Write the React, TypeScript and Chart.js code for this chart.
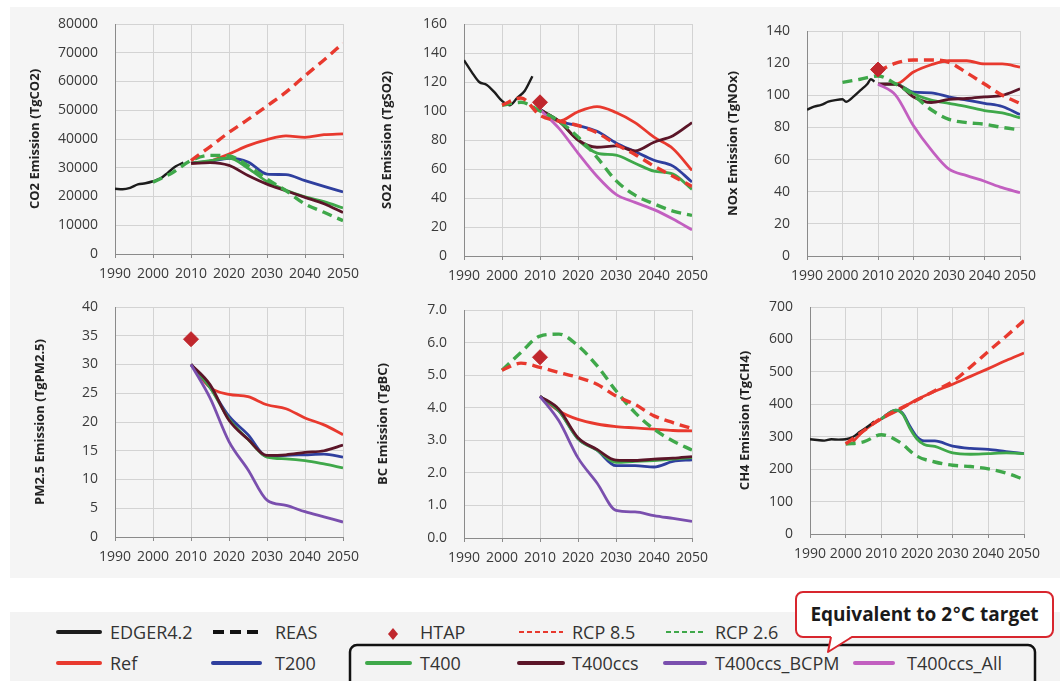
import React, { useEffect, useRef } from "react";
import { Chart, registerables } from "chart.js";

Chart.register(...registerables);
Chart.defaults.font.family = "'Open Sans', 'DejaVu Sans', sans-serif";

// ---- x positions (years) ----
const YEARS_HIST = [1990, 1992, 1994, 1996, 1998, 2000, 2002, 2004, 2006, 2008];
const YEARS_NOX_HIST = [1990, 1992, 1994, 1996, 1998, 2000, 2001, 2003, 2005, 2007, 2008, 2009];
const YEARS_RCP = [2000, 2005, 2010, 2015, 2020, 2025, 2030, 2035, 2040, 2045, 2050];
const YEARS_PROJ = [2010, 2015, 2020, 2025, 2030, 2035, 2040, 2045, 2050];
const YEARS_CH4_REF = [2002, 2005, 2010, 2015, 2020, 2025, 2030, 2035, 2040, 2045, 2050];
const YEARS_CH4_PEAK = [2010, 2012, 2014, 2016, 2018, 2020, 2022, 2025, 2030, 2035, 2040, 2045, 2050];
const YEAR_HTAP = [2010];

// ---- CO2 (TgCO2) ----
const co2Edgar = [22700, 22500, 23000, 24200, 24600, 25300, 26300, 28400, 30500, 31800];
const co2Rcp85 = [32500, 37300, 42300, 46800, 51500, 56300, 62000, 67500, 73300];
const co2Rcp26 = [25000, 28200, 32500, 34300, 34100, 30700, 26100, 22000, 17400, 14500, 11600];
const co2Ref = [31500, 32300, 34800, 37700, 39800, 41100, 40600, 41500, 41800];
const co2T200 = [31700, 32200, 33300, 32000, 27800, 27600, 25500, 23500, 21600];
const co2T400 = [31600, 32500, 33400, 29800, 25200, 22200, 19900, 18200, 16000];
const co2T400ccs = [31500, 31800, 30800, 27300, 24300, 22000, 19700, 17500, 14400];

// ---- SO2 (TgSO2) ----
const so2Edgar = [135, 127, 120, 118, 113, 107, 104, 109, 114, 124];
const so2Htap = [106];
const so2Rcp85 = [104, 109, 97, 93, 90, 85, 77, 70, 62, 55, 48];
const so2Rcp26 = [104, 106, 100, 93, 82, 68, 52, 42, 36, 31, 28];
const so2Ref = [101, 93, 99.5, 103, 99, 92, 82, 74, 59];
const so2T200 = [101, 93, 90, 86, 78, 72, 66, 62, 51];
const so2T400 = [101, 93, 80, 71, 69.5, 64, 58.5, 56.5, 46];
const so2T400ccs = [101, 93, 80, 75, 76, 72.5, 78.5, 83, 92];
const so2T400ccsAll = [101, 88, 71, 55, 42.5, 37, 32, 25.5, 18];

// ---- NOx (TgNOx) ----
const noxEdgar = [91, 93, 94, 96, 97, 97.5, 96, 99, 103, 107, 110, 108.5];
const noxHtap = [116];
const noxRcp85 = [115, 120, 122, 122, 120.5, 114, 107, 100, 95];
const noxRcp26 = [108, 110, 112, 107, 100, 91, 85, 83, 82, 80, 78.5];
const noxRef = [107, 107, 114.5, 119, 121.5, 121.5, 119.5, 119.5, 117.5];
const noxT200 = [107, 107, 102, 101.5, 99, 97, 95, 93, 88];
const noxT400 = [107, 107, 101, 97, 95, 93, 90.5, 89, 86];
const noxT400ccs = [107, 107, 99, 95.5, 97.5, 98, 99, 100, 104];
const noxT400ccsAll = [107, 100, 81, 66, 54, 50, 46.5, 42.5, 39.4];

// ---- PM2.5 (TgPM2.5) ----
const pm25Htap = [34.4];
const pm25Ref = [30, 26, 24.8, 24.4, 23, 22.3, 20.7, 19.5, 17.8];
const pm25T200 = [30, 26, 21, 17.8, 14, 14.2, 14.3, 14.4, 13.9];
const pm25T400 = [30, 26, 20.5, 17, 13.9, 13.6, 13.3, 12.7, 12];
const pm25T400ccs = [30, 26.5, 20.3, 17, 14.2, 14.3, 14.7, 15, 16];
const pm25T400ccsBcpm = [30, 24.2, 16.6, 11.7, 6.4, 5.5, 4.4, 3.5, 2.6];

// ---- BC (TgBC) ----
const bcHtap = [5.55];
const bcRcp85 = [5.15, 5.37, 5.24, 5.08, 4.93, 4.72, 4.36, 4.1, 3.75, 3.54, 3.36];
const bcRcp26 = [5.15, 5.7, 6.2, 6.26, 5.9, 5.29, 4.52, 3.85, 3.34, 2.98, 2.7];
const bcRef = [4.35, 3.9, 3.64, 3.5, 3.42, 3.38, 3.34, 3.3, 3.29];
const bcT200 = [4.35, 3.9, 3.05, 2.7, 2.22, 2.22, 2.18, 2.35, 2.4];
const bcT400 = [4.35, 3.9, 3.05, 2.7, 2.32, 2.35, 2.38, 2.42, 2.47];
const bcT400ccs = [4.35, 3.95, 3.08, 2.72, 2.39, 2.38, 2.42, 2.45, 2.5];
const bcT400ccsBcpm = [4.35, 3.59, 2.46, 1.69, 0.85, 0.8, 0.69, 0.6, 0.51];

// ---- CH4 (TgCH4) ----
const ch4Edgar = [292, 290, 288, 292, 291, 292, 299, 315, 330, 347];
const ch4Rcp85 = [278, 318, 357, 385, 413, 442, 470, 515, 563, 610, 658];
const ch4Rcp26 = [277, 284, 306, 284, 240, 222, 212, 208, 201, 188, 168];
const ch4Ref = [284, 318, 355, 383, 415, 440, 462, 486, 510, 535, 558];
const ch4T200 = [355, 372, 382, 372, 332, 299, 287, 287, 271, 264, 261, 254, 248];
const ch4T400 = [355, 372, 382, 370, 326, 293, 276, 270, 250, 246, 248, 250, 248];

// ---- series styling ----
const COLORS: Record<string, string> = {
  "EDGER4.2": "#1c1c1c",
  HTAP: "#c0272d",
  "RCP 8.5": "#e8392e",
  "RCP 2.6": "#3fa84a",
  Ref: "#e8392e",
  T200: "#2f3f9e",
  T400: "#3fa84a",
  T400ccs: "#5b1528",
  T400ccs_BCPM: "#7a4fae",
  T400ccs_All: "#c25fc0",
};
const DASHED = ["RCP 8.5", "RCP 2.6"];
// first entries are painted on top
const DRAW_ORDER = ["HTAP", "RCP 8.5", "RCP 2.6", "EDGER4.2", "T400ccs_All", "T400ccs_BCPM", "T400ccs", "T400", "T200", "Ref"];

type SeriesDef = [string, number[], number[]];

interface PanelDef {
  title: string;
  yMax: number;
  yStep: number;
  decimals: number;
  series: SeriesDef[];
}

const PANELS: PanelDef[] = [
  {
    title: "CO2 Emission (TgCO2)", yMax: 80000, yStep: 10000, decimals: 0,
    series: [
      ["EDGER4.2", YEARS_HIST, co2Edgar], ["RCP 8.5", YEARS_PROJ, co2Rcp85], ["RCP 2.6", YEARS_RCP, co2Rcp26],
      ["Ref", YEARS_PROJ, co2Ref], ["T200", YEARS_PROJ, co2T200], ["T400", YEARS_PROJ, co2T400],
      ["T400ccs", YEARS_PROJ, co2T400ccs],
    ],
  },
  {
    title: "SO2 Emission (TgSO2)", yMax: 160, yStep: 20, decimals: 0,
    series: [
      ["EDGER4.2", YEARS_HIST, so2Edgar], ["HTAP", YEAR_HTAP, so2Htap], ["RCP 8.5", YEARS_RCP, so2Rcp85],
      ["RCP 2.6", YEARS_RCP, so2Rcp26], ["Ref", YEARS_PROJ, so2Ref], ["T200", YEARS_PROJ, so2T200],
      ["T400", YEARS_PROJ, so2T400], ["T400ccs", YEARS_PROJ, so2T400ccs], ["T400ccs_All", YEARS_PROJ, so2T400ccsAll],
    ],
  },
  {
    title: "NOx Emission (TgNOx)", yMax: 140, yStep: 20, decimals: 0,
    series: [
      ["EDGER4.2", YEARS_NOX_HIST, noxEdgar], ["HTAP", YEAR_HTAP, noxHtap], ["RCP 8.5", YEARS_PROJ, noxRcp85],
      ["RCP 2.6", YEARS_RCP, noxRcp26], ["Ref", YEARS_PROJ, noxRef], ["T200", YEARS_PROJ, noxT200],
      ["T400", YEARS_PROJ, noxT400], ["T400ccs", YEARS_PROJ, noxT400ccs], ["T400ccs_All", YEARS_PROJ, noxT400ccsAll],
    ],
  },
  {
    title: "PM2.5 Emission (TgPM2.5)", yMax: 40, yStep: 5, decimals: 0,
    series: [
      ["HTAP", YEAR_HTAP, pm25Htap], ["Ref", YEARS_PROJ, pm25Ref], ["T200", YEARS_PROJ, pm25T200],
      ["T400", YEARS_PROJ, pm25T400], ["T400ccs", YEARS_PROJ, pm25T400ccs], ["T400ccs_BCPM", YEARS_PROJ, pm25T400ccsBcpm],
    ],
  },
  {
    title: "BC Emission (TgBC)", yMax: 7, yStep: 1, decimals: 1,
    series: [
      ["HTAP", YEAR_HTAP, bcHtap], ["RCP 8.5", YEARS_RCP, bcRcp85], ["RCP 2.6", YEARS_RCP, bcRcp26],
      ["Ref", YEARS_PROJ, bcRef], ["T200", YEARS_PROJ, bcT200], ["T400", YEARS_PROJ, bcT400],
      ["T400ccs", YEARS_PROJ, bcT400ccs], ["T400ccs_BCPM", YEARS_PROJ, bcT400ccsBcpm],
    ],
  },
  {
    title: "CH4 Emission (TgCH4)", yMax: 700, yStep: 100, decimals: 0,
    series: [
      ["EDGER4.2", YEARS_HIST, ch4Edgar], ["RCP 8.5", YEARS_RCP, ch4Rcp85], ["RCP 2.6", YEARS_RCP, ch4Rcp26],
      ["Ref", YEARS_CH4_REF, ch4Ref], ["T200", YEARS_CH4_PEAK, ch4T200], ["T400", YEARS_CH4_PEAK, ch4T400],
    ],
  },
];

// plot-area boxes on the page: left, right, top, bottom, and y-title centre x
const FRAMES = [
  { l: 115, r: 343, t: 24, b: 254, tx: 35 },
  { l: 464, r: 692, t: 24, b: 256, tx: 387 },
  { l: 807, r: 1020, t: 31, b: 256, tx: 733 },
  { l: 115, r: 343, t: 307, b: 537, tx: 40 },
  { l: 464, r: 692, t: 310, b: 538, tx: 383 },
  { l: 810, r: 1024, t: 307, b: 534, tx: 745 },
];

const Y_AXIS_W = 105;
const X_AXIS_H = 30;
const PAD_TOP = 18;
const PAD_RIGHT = 24;
const GRID = "#d3d3d3";
const AXIS = "#8a8a8a";
const TICK_TEXT = "#3a3a3a";

function buildDatasets(series: SeriesDef[]) {
  const sorted = [...series].sort((a, b) => DRAW_ORDER.indexOf(a[0]) - DRAW_ORDER.indexOf(b[0]));
  return sorted.map(([label, years, values]) => {
    const data = years.map((x, i) => ({ x, y: values[i] }));
    const color = COLORS[label];
    if (label === "HTAP") {
      return {
        label, data, showLine: false, pointStyle: "rectRot", pointRadius: 7.5,
        pointBackgroundColor: color, pointBorderColor: color, borderColor: color,
      };
    }
    const dashed = DASHED.includes(label);
    return {
      label, data, borderColor: color, backgroundColor: color,
      borderWidth: dashed ? 3.4 : label === "EDGER4.2" ? 2.4 : 2.8,
      borderDash: dashed ? [10, 6] : [],
      pointRadius: 0, fill: false, cubicInterpolationMode: "monotone",
    };
  });
}

function Panel({ def, frame }: { def: PanelDef; frame: typeof FRAMES[number] }) {
  const ref = useRef<HTMLCanvasElement>(null);
  const left = frame.l - Y_AXIS_W;
  const top = frame.t - PAD_TOP;
  const width = frame.r - left + PAD_RIGHT;
  const height = frame.b - top + X_AXIS_H;

  useEffect(() => {
    if (!ref.current) return;
    const titleFontSize = 13;
    const chart = new Chart(ref.current, {
      type: "line",
      data: { datasets: buildDatasets(def.series) as any },
      options: {
        animation: false,
        responsive: false,
        devicePixelRatio: 1,
        layout: { padding: { left: 0, top: PAD_TOP, right: PAD_RIGHT, bottom: 0 } },
        plugins: { legend: { display: false }, tooltip: { enabled: false } },
        scales: {
          x: {
            type: "linear", min: 1990, max: 2050,
            ticks: {
              stepSize: 10, autoSkip: false, maxRotation: 0, padding: 8,
              color: TICK_TEXT, font: { size: 14 },
              callback: (v: any) => String(v),
            },
            grid: { color: GRID, tickColor: AXIS, tickLength: 4, drawTicks: true },
            border: { color: AXIS, width: 1 },
            afterFit: (s: any) => { s.height = X_AXIS_H; s.paddingLeft = 0; s.paddingRight = 0; },
          },
          y: {
            type: "linear", min: 0, max: def.yMax,
            ticks: {
              stepSize: def.yStep, padding: 17, color: TICK_TEXT, font: { size: 14 },
              callback: (v: any) => Number(v).toFixed(def.decimals),
            },
            grid: { color: GRID, drawTicks: false },
            border: { color: AXIS, width: 1 },
            title: {
              display: true, text: def.title, color: "#222",
              font: { size: titleFontSize, weight: "bold" },
              padding: { top: frame.tx - left - (titleFontSize * 1.2) / 2, bottom: 0 },
            },
            afterFit: (s: any) => { s.width = Y_AXIS_W; s.paddingTop = 0; s.paddingBottom = 0; },
          },
        },
      } as any,
    });
    return () => chart.destroy();
  }, [def, frame]);

  return (
    <canvas
      ref={ref}
      width={width}
      height={height}
      style={{ position: "absolute", left, top, width, height }}
    />
  );
}

// legend entries: [label, kind, sample x0, sample x1, text x, row]
const LEGEND_ROW_Y = [632, 663];
const LEGEND: [string, string, number, number, number, number][] = [
  ["EDGER4.2", "solid", 58, 100, 110, 0],
  ["REAS", "dashBlack", 213, 260, 275, 0],
  ["HTAP", "diamond", 393, 393, 420, 0],
  ["RCP 8.5", "dashThin", 519, 563, 572, 0],
  ["RCP 2.6", "dashThin", 666, 706, 715, 0],
  ["Ref", "solid", 58, 100, 110, 1],
  ["T200", "solid", 213, 260, 275, 1],
  ["T400", "solid", 367, 410, 420, 1],
  ["T400ccs", "solid", 519, 563, 572, 1],
  ["T400ccs_BCPM", "solid", 665, 705, 715, 1],
  ["T400ccs_All", "solid", 855, 893, 907, 1],
];

function Legend() {
  const font = "'Open Sans', 'DejaVu Sans', sans-serif";
  return (
    <svg width={1060} height={681} style={{ position: "absolute", left: 0, top: 0 }}>
      <rect x={10} y={7} width={1050} height={571} fill="#f5f5f5" />
      <rect x={10} y={612} width={1050} height={69} fill="#f3f3f3" />
      {LEGEND.map(([label, kind, x0, x1, tx, row]) => {
        const y = LEGEND_ROW_Y[row];
        const color = COLORS[label] || "#111";
        let mark: any = null;
        if (kind === "solid") {
          mark = <line x1={x0} y1={y} x2={x1} y2={y} stroke={color} strokeWidth={4} strokeLinecap="round" />;
        } else if (kind === "dashBlack") {
          mark = <line x1={x0} y1={y} x2={x1} y2={y} stroke="#111" strokeWidth={4} strokeDasharray="11 6" />;
        } else if (kind === "dashThin") {
          mark = <line x1={x0} y1={y} x2={x1} y2={y} stroke={color} strokeWidth={2} strokeDasharray="5 3" />;
        } else {
          mark = <path d={`M${x0} ${y - 4} L${x0 + 5} ${y + 2} L${x0} ${y + 8} L${x0 - 5} ${y + 2} Z`} fill={color} />;
        }
        return (
          <g key={label}>
            {mark}
            <text x={tx} y={y + 6.5} fontFamily={font} fontSize={18} fill="#333">{label}</text>
          </g>
        );
      })}
      <rect x={350} y={645} width={685} height={52} rx={7} fill="none" stroke="#111" strokeWidth={2.5} />
      <rect x={796} y={592} width={257} height={45} rx={7} fill="#ffffff" stroke="#d8262e" strokeWidth={2} />
      <path d="M831 636 L828 652 L852 636 Z" fill="#ffffff" />
      <path d="M831 637 L828 652 L852 637" fill="none" stroke="#d8262e" strokeWidth={2} strokeLinejoin="round" />
      <text x={924.5} y={621} textAnchor="middle" fontFamily={font} fontSize={19} fontWeight="bold" fill="#1a1a1a">
        Equivalent to 2℃ target
      </text>
    </svg>
  );
}

export default function App() {
  return (
    <div style={{ position: "absolute", left: 0, top: 0, width: 1060, height: 681, background: "#ffffff", overflow: "hidden" }}>
      <Legend />
      {PANELS.map((p, i) => (
        <Panel key={p.title} def={p} frame={FRAMES[i]} />
      ))}
    </div>
  );
}
